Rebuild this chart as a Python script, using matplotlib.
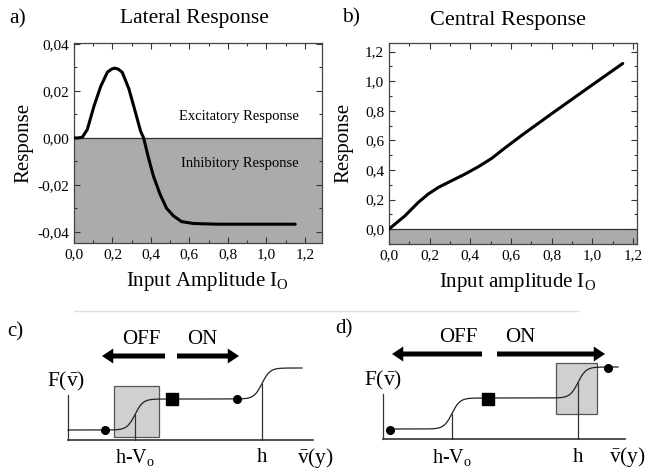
import numpy as np
import matplotlib
matplotlib.use("Agg")
import matplotlib.pyplot as plt
from matplotlib.ticker import MultipleLocator, FuncFormatter
from matplotlib.lines import Line2D

plt.rcParams['font.family'] = ['Liberation Serif', 'DejaVu Serif']
plt.rcParams['mathtext.fontset'] = 'custom'
plt.rcParams['mathtext.rm'] = 'Liberation Serif'
plt.rcParams['mathtext.it'] = 'Liberation Serif:italic'

# ---- Panel a: lateral response ----
lat_x = [0.0, 0.02, 0.043, 0.069, 0.104, 0.139, 0.173, 0.195, 0.211, 0.23, 0.251,
         0.286, 0.32, 0.346, 0.362, 0.386, 0.412, 0.447, 0.481, 0.516, 0.559,
         0.62, 0.74, 0.9, 1.15]
lat_y = [0.0, 0.0, 0.0003, 0.0036, 0.0136, 0.022, 0.0279, 0.0293, 0.0297, 0.0293,
         0.0279, 0.0207, 0.0107, 0.0029, 0.0, -0.0081, -0.016, -0.0239, -0.0299,
         -0.0331, -0.0356, -0.0364, -0.0367, -0.0367, -0.0367]

# ---- Panel b: central response ----
cen_x = [0.0, 0.079, 0.144, 0.193, 0.243, 0.308, 0.374, 0.44, 0.505, 0.57,
         0.652, 0.8, 1.0, 1.15]
cen_y = [0.0, 0.09, 0.18, 0.237, 0.282, 0.327, 0.372, 0.422, 0.478, 0.548,
         0.633, 0.78, 0.975, 1.12]

# ---- schematic panels c, d (arbitrary units) ----
levels = [0.4, 1.64, 2.88]          # low / mid / high output levels
c_thr = [2.68, 7.76]                # h-Vo, h
d_thr = [2.76, 7.80]
c_range = [0.0, 9.36]
d_range = [0.28, 9.4]
c_dots = ([1.48, 6.76], [0.4, 1.64])
d_dots = ([0.28, 9.0], [0.36, 2.84])
c_square = (4.16, 1.64)
d_square = (4.2, 1.60)
c_box = (1.84, 0.12, 1.80, 2.04)    # x, y, w, h
d_box = (6.92, 1.00, 1.64, 2.04)

GRAY = '#ababab'


def comma(fmt):
    return FuncFormatter(lambda v, p: (fmt % v).replace('.', ','))


fig = plt.figure(figsize=(6.46, 4.70), dpi=100)


def style_axes(ax):
    ax.tick_params(which='both', direction='in', top=True, right=True,
                   labelsize=11, width=0.8, colors='#333333', labelcolor='black')
    ax.tick_params(which='major', length=4)
    ax.tick_params(which='minor', length=2.5)
    for s in ax.spines.values():
        s.set_color('#444444')
        s.set_linewidth(0.9)


# Panel a
axa = fig.add_axes([0.1146, 0.483, 0.384, 0.4255])
axa.set_xlim(0, 1.29)
axa.set_ylim(-0.0447, 0.0404)
axa.axhspan(-0.0447, 0, color=GRAY, lw=0, zorder=0)
axa.axhline(0, color='#333333', lw=0.9, zorder=1)
axa.plot(lat_x, lat_y, color='black', lw=2.2, zorder=3, solid_capstyle='round')
axa.xaxis.set_major_locator(MultipleLocator(0.2))
axa.xaxis.set_minor_locator(MultipleLocator(0.1))
axa.yaxis.set_major_locator(MultipleLocator(0.02))
axa.yaxis.set_minor_locator(MultipleLocator(0.01))
axa.xaxis.set_major_formatter(comma('%.1f'))
axa.yaxis.set_major_formatter(comma('%.2f'))
style_axes(axa)
axa.set_xlabel(r'Input Amplitude I$_\mathregular{O}$', fontsize=15)
axa.set_ylabel('Response', fontsize=15)
axa.xaxis.set_label_coords(0.536, -0.135)
axa.yaxis.set_label_coords(-0.165, 0.5)
axa.text(0.86, 0.009, 'Excitatory Response', ha='center', va='center', fontsize=10.5)
axa.text(0.86, -0.0107, 'Inhibitory Response', ha='center', va='center', fontsize=10.5)

# Panel b
axb = fig.add_axes([0.602, 0.481, 0.384, 0.428])
axb.set_xlim(0, 1.22)
axb.set_ylim(-0.10, 1.26)
axb.axhspan(-0.10, 0, color=GRAY, lw=0, zorder=0)
axb.axhline(0, color='#333333', lw=0.9, zorder=1)
axb.plot(cen_x, cen_y, color='black', lw=2.2, zorder=3, solid_capstyle='round')
axb.xaxis.set_major_locator(MultipleLocator(0.2))
axb.xaxis.set_minor_locator(MultipleLocator(0.1))
axb.yaxis.set_major_locator(MultipleLocator(0.2))
axb.yaxis.set_minor_locator(MultipleLocator(0.1))
axb.xaxis.set_major_formatter(comma('%.1f'))
axb.yaxis.set_major_formatter(comma('%.1f'))
style_axes(axb)
axb.set_xlabel(r'Input amplitude I$_\mathregular{O}$', fontsize=15)
axb.set_ylabel('Response', fontsize=15)
axb.xaxis.set_label_coords(0.52, -0.135)
axb.yaxis.set_label_coords(-0.143, 0.5)

fig.text(9 / 646, 1 - 19 / 470, 'a)', fontsize=15.5, va='center', ha='left')
fig.text(194 / 646, 1 - 19 / 470, 'Lateral Response', fontsize=15.5, va='center', ha='center')
fig.text(342 / 646, 1 - 18 / 470, 'b)', fontsize=15.5, va='center', ha='left')
fig.text(508 / 646, 1 - 20 / 470, 'Central Response', fontsize=16, va='center', ha='center')

# separator
fig.add_artist(Line2D([74 / 646, 578 / 646], [1 - 311 / 470, 1 - 311 / 470],
                      color='#dddddd', lw=1.0))


def sigmoid_curve(xr, thr):
    x = np.linspace(xr[0], xr[1], 300)
    lo, mid, hi = levels
    y = lo + (mid - lo) * 0.5 * (1 + np.tanh((x - thr[0]) / 0.32)) \
        + (hi - mid) * 0.5 * (1 + np.tanh((x - thr[1]) / 0.32))
    return x, y


def schematic(rect, xlim, ylim, xr, thr, dots, square, box, offx, onx, arrow_y,
              text_x, fx, vx):
    ax = fig.add_axes(rect)
    ax.set_xlim(*xlim)
    ax.set_ylim(*ylim)
    ax.axis('off')
    bx, by, bw, bh = box
    ax.add_patch(plt.Rectangle((bx, by), bw, bh, facecolor='#d0d0d0',
                               edgecolor='#555555', lw=0.9, zorder=1))
    ax.plot([0, 0], [0, 1.8], color='#333333', lw=0.9)
    ax.plot([0, vx - 0.1], [0, 0], color='#333333', lw=1.2)
    x, y = sigmoid_curve(xr, thr)
    ax.plot(x, y, color='#222222', lw=0.9, zorder=2)
    mid1 = (levels[0] + levels[1]) / 2
    mid2 = (levels[1] + levels[2]) / 2
    ax.plot([thr[0], thr[0]], [0, mid1], color='#333333', lw=0.9, zorder=2)
    ax.plot([thr[1], thr[1]], [0, mid2], color='#333333', lw=0.9, zorder=2)
    ax.plot(dots[0], dots[1], 'o', color='black', ms=5.5, zorder=3)
    ax.plot([square[0]], [square[1]], 's', color='black', ms=9, zorder=3)
    for x0, x1 in (offx, onx):
        ax.arrow(x0, arrow_y, x1 - x0, 0, width=0.2, head_width=0.6,
                 head_length=0.45, length_includes_head=True, color='black', lw=0)
    ax.text(text_x[0], arrow_y + 0.65, 'OFF', fontsize=15, ha='center', va='center')
    ax.text(text_x[1], arrow_y + 0.65, 'ON', fontsize=15, ha='center', va='center')
    ax.text(fx, 2.35, r'F($\mathregular{\bar{v}}$)', fontsize=15.5, ha='center', va='center')
    ax.text(thr[0], -0.72, r'h-V$_\mathregular{o}$', fontsize=14.5, ha='center', va='center')
    ax.text(thr[1], -0.72, 'h', fontsize=15, ha='center', va='center')
    ax.text(vx, -0.72, r'$\mathregular{\bar{v}}$(y)', fontsize=15.5, ha='center', va='center')
    return ax


schematic([40 / 646, 0, 290 / 646, 155 / 470], (-1.12, 10.48), (-1.2, 5.0),
          c_range, c_thr, c_dots, c_square, c_box,
          (3.88, 1.36), (4.36, 6.84), 3.36, (2.92, 5.38), -0.08, 9.9)
schematic([355 / 646, 0, 291 / 646, 155 / 470], (-1.12, 10.52), (-1.24, 4.96),
          d_range, d_thr, d_dots, d_square, d_box,
          (3.96, 0.36), (4.56, 8.88), 3.4, (3.0, 5.48), 0.0, 9.76)

fig.text(7 / 646, 1 - 332 / 470, 'c)', fontsize=15, va='center', ha='left')
fig.text(335 / 646, 1 - 329 / 470, 'd)', fontsize=15, va='center', ha='left')

fig.savefig('out.png', dpi=100)
